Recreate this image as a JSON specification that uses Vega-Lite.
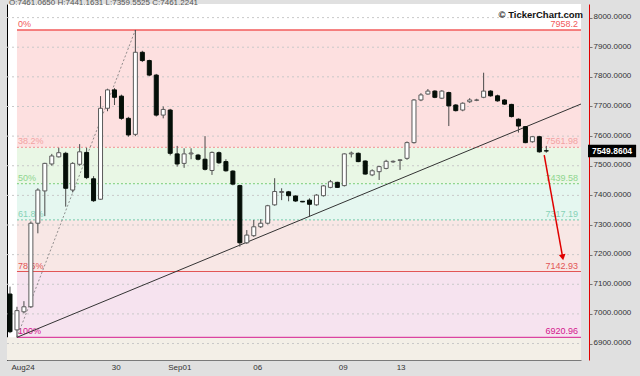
{
  "$schema": "https://vega.github.io/schema/vega-lite/v6.json",
  "width": 574,
  "height": 356,
  "autosize": {"type": "none"},
  "padding": {"left": 7, "top": 4, "right": 59, "bottom": 16},
  "background": "#e0e0e0",
  "config": {
    "view": {"fill": "#ffffff", "stroke": null},
    "font": "Liberation Sans",
    "scale": {"continuousPadding": 0}
  },
  "datasets": {
    "candles": [
      {"i":0,"o":7067,"h":7092,"l":6935,"c":6940},
      {"i":1,"o":6946,"h":7024,"l":6921,"c":7011},
      {"i":2,"o":7007,"h":7043,"l":7002,"c":7024},
      {"i":3,"o":7024,"h":7312,"l":7020,"c":7306},
      {"i":4,"o":7306,"h":7424,"l":7272,"c":7418},
      {"i":5,"o":7415,"h":7510,"l":7330,"c":7508},
      {"i":6,"o":7506,"h":7540,"l":7500,"c":7533},
      {"i":7,"o":7530,"h":7561,"l":7528,"c":7544},
      {"i":8,"o":7542,"h":7547,"l":7362,"c":7424},
      {"i":9,"o":7418,"h":7512,"l":7410,"c":7508},
      {"i":10,"o":7505,"h":7573,"l":7500,"c":7547},
      {"i":11,"o":7545,"h":7561,"l":7455,"c":7460},
      {"i":12,"o":7456,"h":7465,"l":7378,"c":7382},
      {"i":13,"o":7387,"h":7735,"l":7385,"c":7694},
      {"i":14,"o":7694,"h":7760,"l":7684,"c":7756},
      {"i":15,"o":7756,"h":7762,"l":7705,"c":7731},
      {"i":16,"o":7735,"h":7740,"l":7655,"c":7660},
      {"i":17,"o":7660,"h":7665,"l":7598,"c":7604},
      {"i":18,"o":7606,"h":7958.2,"l":7600,"c":7883},
      {"i":19,"o":7883,"h":7888,"l":7850,"c":7855},
      {"i":20,"o":7855,"h":7858,"l":7802,"c":7806},
      {"i":21,"o":7806,"h":7810,"l":7666,"c":7671},
      {"i":22,"o":7671,"h":7700,"l":7660,"c":7690},
      {"i":23,"o":7688,"h":7692,"l":7535,"c":7542},
      {"i":24,"o":7540,"h":7567,"l":7497,"c":7506},
      {"i":25,"o":7508,"h":7559,"l":7493,"c":7540},
      {"i":26,"o":7540,"h":7559,"l":7522,"c":7543},
      {"i":27,"o":7536,"h":7540,"l":7518,"c":7522},
      {"i":28,"o":7522,"h":7600,"l":7484,"c":7488},
      {"i":29,"o":7484,"h":7548,"l":7469,"c":7545},
      {"i":30,"o":7544,"h":7548,"l":7506,"c":7510},
      {"i":31,"o":7514,"h":7522,"l":7480,"c":7483},
      {"i":32,"o":7482,"h":7485,"l":7434,"c":7438},
      {"i":33,"o":7433,"h":7436,"l":7227,"c":7240},
      {"i":34,"o":7240,"h":7283,"l":7236,"c":7266},
      {"i":35,"o":7264,"h":7317,"l":7260,"c":7294},
      {"i":36,"o":7294,"h":7320,"l":7290,"c":7306},
      {"i":37,"o":7306,"h":7368,"l":7302,"c":7365},
      {"i":38,"o":7368,"h":7458,"l":7365,"c":7413},
      {"i":39,"o":7410,"h":7424,"l":7384,"c":7413},
      {"i":40,"o":7412,"h":7415,"l":7380,"c":7399},
      {"i":41,"o":7398,"h":7400,"l":7378,"c":7381},
      {"i":42,"o":7380,"h":7381,"l":7377,"c":7378},
      {"i":43,"o":7384,"h":7390,"l":7327,"c":7370},
      {"i":44,"o":7368,"h":7404,"l":7365,"c":7401},
      {"i":45,"o":7399,"h":7435,"l":7396,"c":7432},
      {"i":46,"o":7427,"h":7452,"l":7424,"c":7446},
      {"i":47,"o":7444,"h":7446,"l":7425,"c":7427},
      {"i":48,"o":7433,"h":7542,"l":7430,"c":7540},
      {"i":49,"o":7540,"h":7548,"l":7528,"c":7543},
      {"i":50,"o":7542,"h":7545,"l":7512,"c":7514},
      {"i":51,"o":7516,"h":7518,"l":7470,"c":7472},
      {"i":52,"o":7469,"h":7488,"l":7465,"c":7483},
      {"i":53,"o":7480,"h":7500,"l":7452,"c":7497},
      {"i":54,"o":7491,"h":7520,"l":7488,"c":7515},
      {"i":55,"o":7513,"h":7518,"l":7510,"c":7515},
      {"i":56,"o":7518,"h":7522,"l":7486,"c":7520},
      {"i":57,"o":7525,"h":7582,"l":7520,"c":7578},
      {"i":58,"o":7578,"h":7725,"l":7575,"c":7722},
      {"i":59,"o":7722,"h":7745,"l":7718,"c":7739},
      {"i":60,"o":7742,"h":7759,"l":7740,"c":7752},
      {"i":61,"o":7752,"h":7755,"l":7728,"c":7731},
      {"i":62,"o":7728,"h":7755,"l":7725,"c":7752},
      {"i":63,"o":7747,"h":7750,"l":7634,"c":7702},
      {"i":64,"o":7705,"h":7708,"l":7683,"c":7686},
      {"i":65,"o":7688,"h":7714,"l":7684,"c":7711},
      {"i":66,"o":7716,"h":7728,"l":7712,"c":7722},
      {"i":67,"o":7721,"h":7726,"l":7718,"c":7722},
      {"i":68,"o":7731,"h":7814,"l":7728,"c":7752},
      {"i":69,"o":7752,"h":7755,"l":7733,"c":7736},
      {"i":70,"o":7736,"h":7740,"l":7716,"c":7719},
      {"i":71,"o":7722,"h":7725,"l":7705,"c":7708},
      {"i":72,"o":7707,"h":7709,"l":7663,"c":7666},
      {"i":73,"o":7657,"h":7660,"l":7612,"c":7634},
      {"i":74,"o":7632,"h":7634,"l":7576,"c":7578},
      {"i":75,"o":7581,"h":7600,"l":7578,"c":7598},
      {"i":76,"o":7598,"h":7601,"l":7544,"c":7547},
      {"i":77,"o":7550.5,"h":7567,"l":7544,"c":7549.8604}
    ],
    "fib": [
      {"pct":"0%","level":7958.2,"txt":"7958.2","start":1},
      {"pct":"38.2%","level":7561.98,"txt":"7561.98","start":1},
      {"pct":"50%","level":7439.58,"txt":"7439.58","start":1},
      {"pct":"61.8%","level":7317.19,"txt":"7317.19","start":1},
      {"pct":"78.6%","level":7142.93,"txt":"7142.93","start":1},
      {"pct":"100%","level":6920.96,"txt":"6920.96","start":1}
    ],
    "zones": [
      {"zone":"z1","top":7958.2,"bottom":7561.98,"start":1},
      {"zone":"z2","top":7561.98,"bottom":7439.58,"start":1},
      {"zone":"z3","top":7439.58,"bottom":7317.19,"start":1},
      {"zone":"z4","top":7317.19,"bottom":7142.93,"start":1},
      {"zone":"z5","top":7142.93,"bottom":6920.96,"start":1}
    ],
    "grid": [
      {"v":6900},{"v":7000},{"v":7100},{"v":7200},{"v":7300},{"v":7400},
      {"v":7500},{"v":7600},{"v":7700},{"v":7800},{"v":7900},{"v":8000}
    ],
    "trend": [{"i":1,"v":6921},{"i":84,"v":7728}],
    "diag": [{"i":1,"v":6920.96},{"i":18,"v":7958.2}],
    "arrow": [{"i":76.7,"v":7536},{"i":79.35,"v":7191}],
    "head": [{"i":79.35,"v":7191}],
    "last": [{"price":7549.8604,"txt":"7549.8604"}]
  },
  "resolve": {"axis": {"x": "independent", "y": "independent"}},
  "layer": [
    {
      "data": {"name": "fib"},
      "transform": [{"filter": "datum.pct == '100%'"}],
      "mark": {"type": "rect", "fill": "#f3efe7"},
      "encoding": {
        "x": {"value": 0},
        "x2": {"value": "width"},
        "y": {"field": "level", "type": "quantitative",
              "scale": {"domain": [6844.4, 8045.9], "nice": false, "zero": false, "padding": 0},
              "axis": {"orient": "left", "labels": false, "ticks": false, "grid": false, "title": null, "domainColor": "#000000", "domainWidth": 1}},
        "y2": {"value": "height"}
      }
    },
    {
      "data": {"name": "zones"},
      "mark": {"type": "rect"},
      "encoding": {
        "x": {"field": "start", "type": "quantitative", "scale": {"domain": [-0.43, 81.98], "nice": false, "zero": false, "padding": 0}, "axis": null},
        "x2": {"value": "width"},
        "y": {"field": "top", "type": "quantitative", "scale": {"domain": [6844.4, 8045.9], "nice": false, "zero": false, "padding": 0}, "axis": null},
        "y2": {"field": "bottom"},
        "fill": {"field": "zone", "type": "nominal", "legend": null,
                 "scale": {"domain": ["z1","z2","z3","z4","z5"], "range": ["#fde0e0","#e9f7e5","#e5f7f0","#f8e7e5","#f6e3ef"]}}
      }
    },
    {
      "data": {"name": "grid"},
      "mark": {"type": "rule", "stroke": "#c9c9c9", "strokeDash": [2, 3], "strokeWidth": 1},
      "encoding": {
        "x": {"value": 0},
        "x2": {"value": "width"},
        "y": {"field": "v", "type": "quantitative", "scale": {"domain": [6844.4, 8045.9], "nice": false, "zero": false, "padding": 0}, "axis": null}
      }
    },
    {
      "data": {"name": "fib"},
      "mark": {"type": "rule"},
      "encoding": {
        "x": {"field": "start", "type": "quantitative", "scale": {"domain": [-0.43, 81.98], "nice": false, "zero": false, "padding": 0}, "axis": null},
        "x2": {"value": "width"},
        "y": {"field": "level", "type": "quantitative", "scale": {"domain": [6844.4, 8045.9], "nice": false, "zero": false, "padding": 0}, "axis": null},
        "color": {"field": "pct", "type": "nominal", "legend": null,
                  "scale": {"domain": ["0%","38.2%","50%","61.8%","78.6%","100%"], "range": ["#f25a5a","#f2a3a3","#8fd68f","#87d2b6","#e25555","#d4168d"]}},
        "strokeDash": {"field": "pct", "type": "nominal", "legend": null,
                  "scale": {"domain": ["0%","38.2%","50%","61.8%","78.6%","100%"], "range": [[1,0],[2,2],[2,2],[2,2],[1,0],[1,0]]}},
        "strokeWidth": {"field": "pct", "type": "nominal", "legend": null,
                  "scale": {"domain": ["0%","38.2%","50%","61.8%","78.6%","100%"], "range": [1.5,1,1,1,1.5,2]}}
      }
    },
    {
      "data": {"name": "fib"},
      "mark": {"type": "text", "align": "left", "baseline": "alphabetic", "dx": 1, "dy": -3, "fontSize": 9},
      "encoding": {
        "x": {"field": "start", "type": "quantitative", "scale": {"domain": [-0.43, 81.98], "nice": false, "zero": false, "padding": 0}, "axis": null},
        "y": {"field": "level", "type": "quantitative", "scale": {"domain": [6844.4, 8045.9], "nice": false, "zero": false, "padding": 0}, "axis": null},
        "text": {"field": "pct"},
        "color": {"field": "pct", "type": "nominal", "legend": null,
                  "scale": {"domain": ["0%","38.2%","50%","61.8%","78.6%","100%"], "range": ["#f26d6d","#f08080","#8ccf5c","#6fcfa9","#e25c5c","#cc5cb4"]}}
      }
    },
    {
      "data": {"name": "fib"},
      "mark": {"type": "text", "align": "right", "baseline": "alphabetic", "dx": -3, "dy": -3, "fontSize": 9},
      "encoding": {
        "x": {"value": "width"},
        "y": {"field": "level", "type": "quantitative", "scale": {"domain": [6844.4, 8045.9], "nice": false, "zero": false, "padding": 0}, "axis": null},
        "text": {"field": "txt"},
        "color": {"field": "pct", "type": "nominal", "legend": null,
                  "scale": {"domain": ["0%","38.2%","50%","61.8%","78.6%","100%"], "range": ["#f26d6d","#f08080","#8ccf5c","#6fcfa9","#e25c5c","#cc5cb4"]}}
      }
    },
    {
      "data": {"name": "trend"},
      "mark": {"type": "line", "stroke": "#333333", "strokeWidth": 1, "clip": true},
      "encoding": {
        "x": {"field": "i", "type": "quantitative", "scale": {"domain": [-0.43, 81.98], "nice": false, "zero": false, "padding": 0}, "axis": null},
        "y": {"field": "v", "type": "quantitative", "scale": {"domain": [6844.4, 8045.9], "nice": false, "zero": false, "padding": 0}, "axis": null}
      }
    },
    {
      "data": {"name": "diag"},
      "mark": {"type": "line", "stroke": "#777777", "strokeWidth": 0.8, "strokeDash": [2, 2]},
      "encoding": {
        "x": {"field": "i", "type": "quantitative", "scale": {"domain": [-0.43, 81.98], "nice": false, "zero": false, "padding": 0}, "axis": null},
        "y": {"field": "v", "type": "quantitative", "scale": {"domain": [6844.4, 8045.9], "nice": false, "zero": false, "padding": 0}, "axis": null}
      }
    },
    {
      "data": {"name": "candles"},
      "mark": {"type": "rule", "stroke": "#4a4a4a", "strokeWidth": 1},
      "encoding": {
        "x": {"field": "i", "type": "quantitative", "scale": {"domain": [-0.43, 81.98], "nice": false, "zero": false, "padding": 0},
              "axis": {"orient": "bottom", "values": [0, 14.4, 22.5, 34.7, 47, 55.3],
                       "labelExpr": "datum.value == 0 ? 'Aug24' : datum.value == 14.4 ? '30' : datum.value == 22.5 ? 'Sep01' : datum.value == 34.7 ? '06' : datum.value == 47 ? '09' : '13'",
                       "title": null, "grid": false, "domainColor": "#7a7a7a", "tickColor": "#8a8a8a", "tickSize": -4,
                       "labelAlign": "left", "labelBaseline": "top", "labelPadding": 7, "labelOffset": 1,
                       "labelFontSize": 8, "labelColor": "#333333", "labelFlush": false, "labelOverlap": false}},
        "y": {"field": "l", "type": "quantitative", "scale": {"domain": [6844.4, 8045.9], "nice": false, "zero": false, "padding": 0},
              "axis": {"orient": "right", "offset": 8, "values": [6900,7000,7100,7200,7300,7400,7500,7600,7700,7800,7900,8000],
                       "format": ".4f", "title": null, "grid": false, "domainColor": "#e00000", "domainWidth": 1,
                       "tickColor": "#777777", "tickSize": 3, "labelPadding": 1, "labelFontSize": 8, "labelColor": "#333333",
                       "labelOffset": -1}},
        "y2": {"field": "h"}
      }
    },
    {
      "data": {"name": "candles"},
      "mark": {"type": "bar", "width": 4, "strokeWidth": 1},
      "encoding": {
        "x": {"field": "i", "type": "quantitative", "scale": {"domain": [-0.43, 81.98], "nice": false, "zero": false, "padding": 0}, "axis": null},
        "y": {"field": "o", "type": "quantitative", "scale": {"domain": [6844.4, 8045.9], "nice": false, "zero": false, "padding": 0}, "axis": null},
        "y2": {"field": "c"},
        "fill": {"condition": {"test": "datum.c < datum.o", "value": "#050f08"}, "value": "#ffffff"},
        "stroke": {"condition": {"test": "datum.c < datum.o", "value": "#050f08"}, "value": "#5a5a5a"}
      }
    },
    {
      "data": {"name": "arrow"},
      "mark": {"type": "line", "stroke": "#e00000", "strokeWidth": 1.5},
      "encoding": {
        "x": {"field": "i", "type": "quantitative", "scale": {"domain": [-0.43, 81.98], "nice": false, "zero": false, "padding": 0}, "axis": null},
        "y": {"field": "v", "type": "quantitative", "scale": {"domain": [6844.4, 8045.9], "nice": false, "zero": false, "padding": 0}, "axis": null}
      }
    },
    {
      "data": {"name": "head"},
      "mark": {"type": "point", "shape": "triangle-down", "filled": true, "fill": "#e00000", "opacity": 1, "size": 45, "angle": 350},
      "encoding": {
        "x": {"field": "i", "type": "quantitative", "scale": {"domain": [-0.43, 81.98], "nice": false, "zero": false, "padding": 0}, "axis": null},
        "y": {"field": "v", "type": "quantitative", "scale": {"domain": [6844.4, 8045.9], "nice": false, "zero": false, "padding": 0}, "axis": null}
      }
    },
    {
      "data": {"values": [{"t": "© TickerChart.com", "v": 8000}]},
      "mark": {"type": "text", "align": "right", "baseline": "middle", "dx": 2, "dy": -3, "fontSize": 9.5, "fontWeight": "bold", "fill": "#111111"},
      "encoding": {
        "x": {"value": "width"},
        "y": {"field": "v", "type": "quantitative", "scale": {"domain": [6844.4, 8045.9], "nice": false, "zero": false, "padding": 0}, "axis": null},
        "text": {"field": "t"}
      }
    },
    {
      "data": {"values": [{"t": "O:7461.0650 H:7441.1631 L:7359.5525 C:7461.2241", "v": 8037}]},
      "mark": {"type": "text", "align": "left", "baseline": "alphabetic", "dy": -2, "fontSize": 8, "fill": "#555555"},
      "encoding": {
        "x": {"value": 2},
        "y": {"field": "v", "type": "quantitative", "scale": {"domain": [6844.4, 8045.9], "nice": false, "zero": false, "padding": 0}, "axis": null},
        "text": {"field": "t"}
      }
    },
    {
      "data": {"name": "last"},
      "mark": {"type": "point", "shape": "M0.27,-0.24H2.12V0.24H0.27Z", "filled": true, "fill": "#000000", "opacity": 1, "size": 2704, "strokeWidth": 0},
      "encoding": {
        "x": {"value": "width"},
        "y": {"field": "price", "type": "quantitative", "scale": {"domain": [6844.4, 8045.9], "nice": false, "zero": false, "padding": 0}, "axis": null}
      }
    },
    {
      "data": {"name": "last"},
      "mark": {"type": "text", "align": "center", "baseline": "middle", "dx": 31, "fontSize": 8.5, "fontWeight": "bold", "fill": "#ffffff"},
      "encoding": {
        "x": {"value": "width"},
        "y": {"field": "price", "type": "quantitative", "scale": {"domain": [6844.4, 8045.9], "nice": false, "zero": false, "padding": 0}, "axis": null},
        "text": {"field": "txt"}
      }
    }
  ]
}
